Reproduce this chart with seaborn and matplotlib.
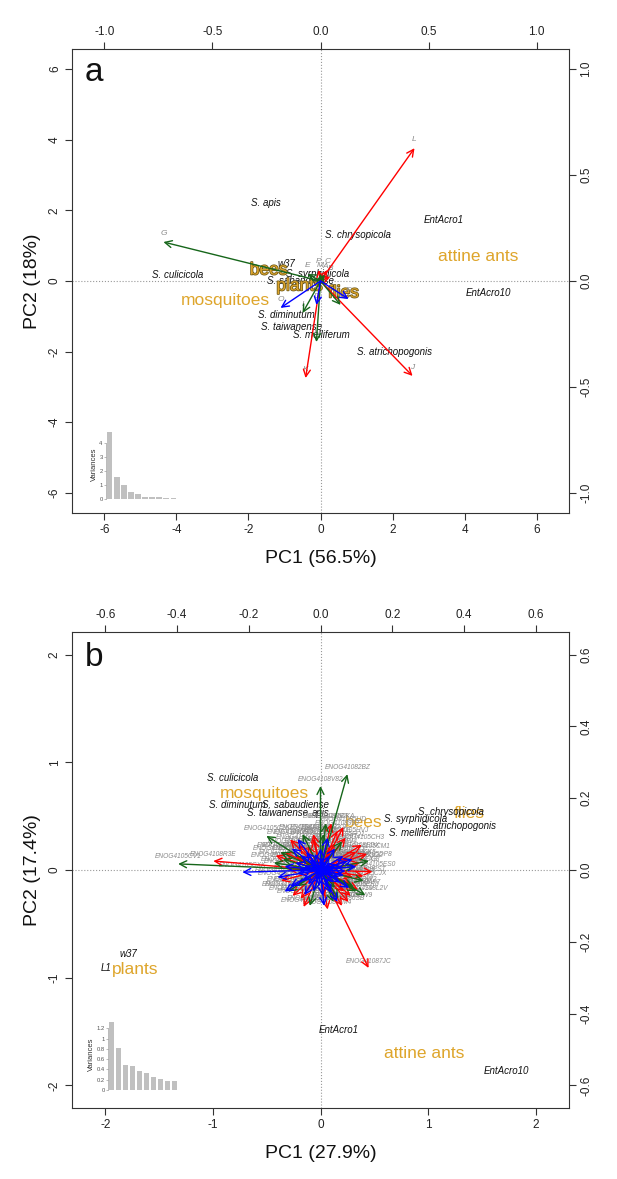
import numpy as np
import pandas as pd
import matplotlib
matplotlib.use("Agg")
import matplotlib.pyplot as plt
import matplotlib.patheffects as pe
from matplotlib.ticker import FormatStrFormatter
import seaborn as sns

sns.set_theme(style="ticks")
plt.rcParams['font.family'] = ['Liberation Sans', 'DejaVu Sans']
plt.rcParams['axes.unicode_minus'] = False

ORANGE = "#DEA52B"
COLS = {"r": "#FF0000", "g": "#16661A", "b": "#0000FF"}
GREY_TXT = "#8A8A8A"

# ---------------- panel a ----------------
a_species = ["S. apis", "S. chrysopicola", "EntAcro1", "EntAcro10", "S. culicicola",
             "w37", "S. sabaudiense", "S. syrphidicola", "S. diminutum",
             "S. taiwanense", "S. melliferum", "S. atrichopogonis"]
a_sp_x = [-1.53, 1.03, 3.42, 4.67, -3.97, -0.94, -0.56, -0.08, -0.94, -0.81, 0.03, 2.06]
a_sp_y = [2.21, 1.30, 1.73, -0.34, 0.17, 0.48, 0.0, 0.20, -0.96, -1.30, -1.53, -2.01]

a_groups = ["attine ants", "mosquitoes", "bees", "plants", "flies"]
a_grp_x = [4.39, -2.64, -1.44, -0.58, 0.64]
a_grp_y = [0.68, -0.54, 0.31, -0.14, -0.34]

a_vars = list("ABCDEFGHIJKLMNOP")
a_var_x = [0.020, 0.045, 0.032, -0.019, -0.060, 0.130, -0.727, 0.093, -0.083, 0.426,
           -0.069, 0.435, 0.000, -0.019, -0.185, -0.009]
a_var_y = [0.030, 0.020, 0.052, -0.113, 0.033, -0.085, 0.184, -0.113, -0.151, -0.448,
           -0.458, 0.627, 0.035, -0.288, -0.127, 0.052]
a_var_col = ["g", "r", "r", "b", "g", "b", "g", "g", "g", "r", "r", "r", "g", "g", "b", "r"]

a_scree = [4.75, 1.55, 1.00, 0.48, 0.33, 0.17, 0.12, 0.12, 0.06, 0.05]

# ---------------- panel b ----------------
b_species = ["S. culicicola", "S. diminutum", "S. sabaudiense", "S. taiwanense", "apis",
             "S. syrphidicola", "S. chrysopicola", "S. atrichopogonis", "S. melliferum",
             "w37", "L1", "EntAcro1", "EntAcro10"]
b_sp_x = [-0.82, -0.77, -0.23, -0.40, 0.00, 0.88, 1.21, 1.28, 0.90, -1.79, -1.99, 0.17, 1.73]
b_sp_y = [0.85, 0.60, 0.60, 0.53, 0.53, 0.47, 0.54, 0.41, 0.34, -0.78, -0.91, -1.49, -1.87]

b_groups = ["mosquitoes", "bees", "flies", "plants", "attine ants"]
b_grp_x = [-0.52, 0.40, 1.38, -1.72, 0.96]
b_grp_y = [0.71, 0.44, 0.52, -0.92, -1.70]

b_red_names = ["ENOG41087JC", "ENOG4108R3E", "ENOG41085UD", "ENOG4108993", "ENOG4105DKA",
               "ENOG4108NTY", "ENOG4108T2E", "ENOG4105EW9", "ENOG4105CSV", "ENOG4108PST",
               "ENOG4108JQ5", "ENOG4105C7M", "ENOG4108HZ1", "ENOG41087ZA", "ENOG4105DB3",
               "ENOG4108UKX", "ENOG4105F0P", "ENOG4108EDX", "ENOG4105K2R", "ENOG4108WM4",
               "ENOG4105CQ8", "ENOG41086SB", "ENOG4105E1N", "ENOG4108GG2", "ENOG4105D9T",
               "ENOG4108XB7", "ENOG4105HVJ", "ENOG4105CM1", "ENOG4108AP7", "ENOG4105DZ4",
               "ENOG4108F3W", "ENOG4105ES0", "ENOG4108KQ2", "ENOG4105G5Y", "ENOG4108N9D",
               "ENOG4105CH3", "ENOG4108RV8", "ENOG4105D1K", "ENOG4108WT6"]
b_red_x = [0.134, -0.299, 0.064, 0.047, 0.030, -0.078, -0.047, 0.078, 0.084, 0.120,
           0.090, -0.092, -0.036, -0.020, 0.056, 0.078, -0.060, 0.100, -0.110, 0.020,
           -0.020, 0.060, -0.070, 0.110, 0.040, -0.100, 0.070, 0.130, 0.105, -0.125,
           0.025, 0.145, -0.055, 0.085, -0.085, 0.115, 0.010, -0.040, 0.065]
b_red_y = [-0.273, 0.025, 0.120, 0.109, 0.130, -0.072, -0.103, -0.089, -0.072, -0.017,
           -0.020, 0.003, 0.067, 0.086, 0.011, 0.030, 0.070, 0.050, -0.030, -0.110,
           0.100, -0.100, 0.040, 0.020, 0.075, 0.050, 0.090, 0.045, -0.055, 0.040,
           0.060, -0.005, -0.080, -0.040, 0.085, 0.070, -0.075, 0.020, -0.060]

b_green_names = ["ENOG41082BZ", "ENOG4108V82", "ENOG4105CV1", "ENOG4105C26", "ENOG4105CBF",
                 "ENOG4108ZK9", "ENOG4108FV7", "ENOG4105DW2", "ENOG4108A4H", "ENOG4105ER6",
                 "ENOG4108MZ3", "ENOG4105FQ1", "ENOG41089RT", "ENOG4105CJX", "ENOG4108S5D",
                 "ENOG4105G7E", "ENOG4108BN6", "ENOG4105DP8", "ENOG4108H1M", "ENOG4105EX3",
                 "ENOG4108Q6C", "ENOG4105CZ7", "ENOG4108L2V"]
b_green_x = [0.075, 0.000, -0.397, -0.151, -0.112, 0.008, 0.036, 0.092, -0.050, 0.100,
             -0.090, 0.060, 0.015, 0.120, -0.130, 0.050, -0.030, 0.135, -0.065, 0.095,
             -0.105, 0.040, 0.125]
b_green_y = [0.267, 0.234, 0.017, 0.095, 0.050, 0.100, -0.089, -0.047, 0.100, -0.060,
             -0.060, 0.080, 0.130, -0.030, 0.020, -0.080, -0.100, 0.025, -0.045, 0.010,
             0.030, -0.050, -0.070]

b_blue_names = ["ENOG4105CXK", "ENOG4108P1A", "ENOG4105D3M", "ENOG4108KW2", "ENOG4105CAZ",
                "ENOG4108T7Y", "ENOG4105E5R", "ENOG4108Q08", "ENOG4105FJ4", "ENOG4108N2C",
                "ENOG4105CUW", "ENOG41089HB", "ENOG4105DQ6", "ENOG4108Z3S", "ENOG4105EPF",
                "ENOG4108RR1", "ENOG4105C4G", "ENOG41085V9", "ENOG4105HA2", "ENOG4108I7K",
                "ENOG4105CYD", "ENOG4108W0E", "ENOG4105DMT", "ENOG4108UG3", "ENOG4105F8N",
                "ENOG4108J4X", "ENOG4105E2B", "ENOG4108CK5", "ENOG4105G1Q", "ENOG4108Y6H",
                "ENOG4105CF0", "ENOG4108B5T", "ENOG4105D7W", "ENOG4108M3R", "ENOG4105EB4",
                "ENOG4108S0N", "ENOG4105C9P", "ENOG4108G6J", "ENOG4105DD1", "ENOG4108X2F",
                "ENOG4105F4C", "ENOG4108K8A", "ENOG4105CN5", "ENOG4108T9Q", "ENOG4105E7H",
                "ENOG4108P4Z", "ENOG4105D2X", "ENOG4108V1G"]
b_blue_x = [-0.218, 0.006, 0.047, -0.084, -0.064, 0.064, 0.070, -0.100, 0.040, -0.040,
            0.020, -0.050, 0.050, -0.030, 0.030, -0.060, 0.060, 0.000, -0.020, 0.080,
            -0.070, 0.020, -0.100, 0.100, -0.045, 0.035, -0.015, 0.090, -0.080, 0.010,
            -0.120, 0.025, -0.035, 0.045, -0.010, 0.055, -0.055, 0.015, -0.025, 0.035,
            0.005, -0.045, 0.065, -0.005, 0.040, -0.065, 0.075, 0.030]
b_blue_y = [-0.006, -0.072, -0.089, -0.045, 0.086, 0.039, -0.003, -0.060, 0.060, 0.050,
            -0.050, -0.030, -0.020, 0.030, 0.020, 0.000, 0.010, 0.060, -0.060, -0.050,
            0.020, 0.090, 0.010, 0.010, -0.070, -0.035, 0.045, 0.030, 0.060, -0.100,
            -0.020, 0.040, -0.040, 0.015, -0.030, -0.035, 0.040, 0.025, 0.015, -0.010,
            0.035, 0.010, -0.015, -0.045, 0.005, -0.010, 0.025, -0.065]

b_scree = [1.33, 0.82, 0.48, 0.46, 0.37, 0.33, 0.25, 0.22, 0.18, 0.17]


def draw_arrows(ax2, xs, ys, col, names, fs, off):
    for n, x, y in zip(names, xs, ys):
        ax2.annotate(n, xy=(x, y), xytext=(0, off), textcoords="offset points",
                     ha="center", va="center", fontsize=fs, color=GREY_TXT,
                     style="italic", zorder=2)
    for x, y in zip(xs, ys):
        ax2.annotate("", xy=(x, y), xytext=(0, 0),
                     arrowprops=dict(arrowstyle="->,head_length=0.5,head_width=0.25",
                                     color=COLS[col], lw=1.0, shrinkA=0, shrinkB=0,
                                     mutation_scale=10), zorder=3)


def setup_axes(fig, rect, lim, lim2, ticks, ticks2, xlab, ylab, fmt):
    ax = fig.add_axes(rect)
    ax.set_xlim(-lim[0], lim[0])
    ax.set_ylim(-lim[1], lim[1])
    ax.set_xticks(ticks)
    ax.set_yticks(ticks)
    ax.axhline(0, color="#999999", ls=":", lw=0.8, zorder=1)
    ax.axvline(0, color="#999999", ls=":", lw=0.8, zorder=1)
    for s in ax.spines.values():
        s.set_color("#333333")
        s.set_linewidth(0.8)
    ax.tick_params(direction="out", length=5, width=0.8, color="#333333",
                   labelsize=8.5, labelcolor="#222222", pad=3)
    ax.tick_params(axis="y", labelrotation=90)
    for t in ax.get_yticklabels():
        t.set_va("center")
    ax.set_xlabel(xlab, fontsize=14, labelpad=10, color="#111111")
    ax.set_ylabel(ylab, fontsize=14, labelpad=6, color="#111111")

    ax2 = fig.add_axes(rect, frameon=False)
    ax2.patch.set_visible(False)
    ax2.set_xlim(-lim2[0], lim2[0])
    ax2.set_ylim(-lim2[1], lim2[1])
    ax2.xaxis.tick_top()
    ax2.yaxis.tick_right()
    ax2.set_xticks(ticks2)
    ax2.set_yticks(ticks2)
    ax2.xaxis.set_major_formatter(FormatStrFormatter(fmt))
    ax2.yaxis.set_major_formatter(FormatStrFormatter(fmt))
    ax2.tick_params(direction="out", length=5, width=0.8, color="#333333",
                    labelsize=8.5, labelcolor="#222222", pad=3)
    ax2.tick_params(axis="y", labelrotation=90)
    for t in ax2.get_yticklabels():
        t.set_va("center")
    return ax, ax2


def scree(fig, rect, vals, yt, ytl, top):
    ins = fig.add_axes(rect)
    ins.patch.set_alpha(0)
    df = pd.DataFrame({"pc": range(len(vals)), "var": vals})
    sns.barplot(data=df, x="pc", y="var", color="#C0C0C0", saturation=1,
                width=0.83, edgecolor="none", ax=ins)
    ins.set_xlim(-0.5, len(vals) - 0.5)
    ins.set_ylim(0, top)
    ins.set_xticks([])
    ins.set_xlabel("")
    ins.set_yticks(yt)
    ins.set_yticklabels(ytl)
    ins.set_ylabel("Variances", fontsize=5.5, labelpad=1, color="#333333")
    sns.despine(ax=ins, bottom=True)
    ins.spines["left"].set_linewidth(0.4)
    ins.spines["left"].set_color("#888888")
    ins.spines["left"].set_bounds(yt[0], yt[-1])
    ins.tick_params(axis="y", labelsize=4.2, length=1.5, width=0.4, pad=1,
                    color="#888888", labelcolor="#555555")


fig = plt.figure(figsize=(6.17, 11.79), dpi=100)

# ---- panel a
rect_a = [72 / 617, 1 - 513 / 1179, 497 / 617, 464 / 1179]
ax, ax2 = setup_axes(fig, rect_a, (6.9, 6.57), (6.9 / 6, 6.57 / 6),
                     [-6, -4, -2, 0, 2, 4, 6], [-1.0, -0.5, 0.0, 0.5, 1.0],
                     "PC1 (56.5%)", "PC2 (18%)", "%.1f")
for c in ["r", "g", "b"]:
    idx = [i for i, k in enumerate(a_var_col) if k == c]
    draw_arrows(ax2, [a_var_x[i] for i in idx], [a_var_y[i] for i in idx], c,
                [a_vars[i] for i in idx], 6, 6)
for s, x, y in zip(a_species, a_sp_x, a_sp_y):
    ax.text(x, y, s, ha="center", va="center", fontsize=7, style="italic",
            color="#111111", zorder=5)
for g, x, y in zip(a_groups, a_grp_x, a_grp_y):
    t = ax.text(x, y, g, ha="center", va="center", fontsize=12.5, color=ORANGE, zorder=6)
    if g in ("bees", "plants", "flies"):
        t.set_path_effects([pe.withStroke(linewidth=1.1, foreground="#6a5718")])
ax.text(-6.3, 5.9, "a", fontsize=24, ha="center", va="center", color="#111111")
scree(fig, [106 / 617, 1 - 499 / 1179, 71 / 617, 69 / 1179], a_scree,
      [0, 1, 2, 3, 4], ["0", "1", "2", "3", "4"], 4.9)

# ---- panel b
rect_b = [72 / 617, 1 - 1108 / 1179, 497 / 617, 476 / 1179]
bx, bx2 = setup_axes(fig, rect_b, (2.31, 2.21), (2.31 * 0.3, 2.21 * 0.3),
                     [-2, -1, 0, 1, 2], [-0.6, -0.4, -0.2, 0.0, 0.2, 0.4, 0.6],
                     "PC1 (27.9%)", "PC2 (17.4%)", "%.1f")
draw_arrows(bx2, b_red_x, b_red_y, "r", b_red_names, 4.8, 5)
draw_arrows(bx2, b_green_x, b_green_y, "g", b_green_names, 4.8, 5)
draw_arrows(bx2, b_blue_x, b_blue_y, "b", b_blue_names, 4.8, 5)
for s, x, y in zip(b_species, b_sp_x, b_sp_y):
    bx.text(x, y, s, ha="center", va="center", fontsize=7, style="italic",
            color="#111111", zorder=5)
for g, x, y in zip(b_groups, b_grp_x, b_grp_y):
    bx.text(x, y, g, ha="center", va="center", fontsize=12.5, color=ORANGE, zorder=4)
bx.text(-2.1, 1.97, "b", fontsize=24, ha="center", va="center", color="#111111")
scree(fig, [108 / 617, 1 - 1090 / 1179, 70 / 617, 72 / 1179], b_scree,
      [0, 0.2, 0.4, 0.6, 0.8, 1.0, 1.2], ["0", "0.2", "0.4", "0.6", "0.8", "1", "1.2"], 1.4)

fig.savefig("out.png", dpi=100)
